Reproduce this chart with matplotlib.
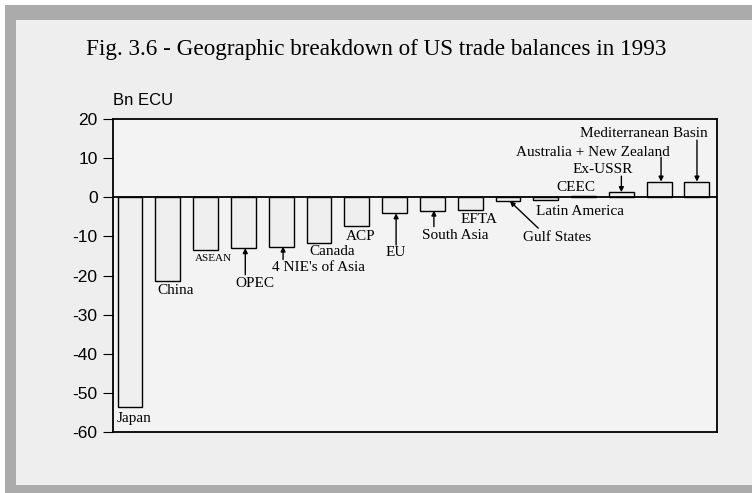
import matplotlib.pyplot as plt
from matplotlib.patches import Rectangle

plt.rcParams['axes.unicode_minus'] = False

regions = ['Japan', 'China', 'ASEAN', 'OPEC', "4 NIE's of Asia", 'Canada', 'ACP', 'EU',
           'South Asia', 'EFTA', 'Gulf States', 'Latin America', 'CEEC', 'Ex-USSR',
           'Australia + New Zealand', 'Mediterranean Basin']
balance = [-53.6, -21.5, -13.5, -13.0, -12.6, -11.8, -7.4, -4.1,
           -3.4, -3.2, -1.0, -0.8, 0.3, 1.3, 4.0, 4.0]

# label position (x, y) and optional arrow start -> bar end
labels = {
    'Japan': (0.1, -56.5, None),
    'China': (1.2, -23.8, None),
    'ASEAN': (2.2, -15.6, None),
    'OPEC': (3.3, -22.0, ((3.05, -19.8), (3.05, -13.0))),
    "4 NIE's of Asia": (5.0, -18.0, ((4.05, -15.9), (4.05, -12.6))),
    'Canada': (5.35, -13.9, None),
    'ACP': (6.1, -10.0, None),
    'EU': (7.04, -14.1, ((7.04, -12.2), (7.04, -4.1))),
    'South Asia': (8.6, -9.8, ((8.04, -7.5), (8.04, -3.4))),
    'EFTA': (9.23, -5.6, None),
    'Gulf States': (11.3, -10.2, ((10.8, -7.9), (10.05, -1.0))),
    'Latin America': (11.9, -3.6, None),
    'CEEC': (11.8, 2.6, None),
    'Ex-USSR': (12.5, 7.2, ((13.0, 5.4), (13.0, 1.3))),
    'Australia + New Zealand': (12.25, 11.5, ((14.05, 10.2), (14.05, 4.0))),
    'Mediterranean Basin': (13.6, 16.2, ((15.0, 14.6), (15.0, 4.0))),
}

serif = 'Liberation Serif'
sans = 'Liberation Sans'

fig = plt.figure(figsize=(7.52, 4.93), dpi=100, facecolor='#eeeeee')

# scanned page frame
fig.patches.append(Rectangle((0, 0), 1, 1, transform=fig.transFigure,
                             facecolor='white', edgecolor='none', zorder=-3))
fig.patches.append(Rectangle((5/752, 0), 1, 1 - 5/493, transform=fig.transFigure,
                             facecolor='#ababab', edgecolor='none', zorder=-2))
fig.patches.append(Rectangle((16/752, 8/493), 1, 1 - 28/493, transform=fig.transFigure,
                             facecolor='#eeeeee', edgecolor='none', zorder=-1))

ax = fig.add_axes([113/752, 1 - 432/493, 604/752, 313/493])
ax.set_facecolor('#f3f3f3')

x = list(range(len(regions)))
ax.bar(x, balance, width=0.66, facecolor='#efefef', edgecolor='black', linewidth=1.0, zorder=2)
ax.axhline(0, color='black', linewidth=1.3, zorder=3)

for name, (tx, ty, arr) in labels.items():
    fs = 8 if name == 'ASEAN' else 11
    ax.text(tx, ty, name, ha='center', va='center', fontsize=fs, family=serif, zorder=4)
    if arr is not None:
        ax.annotate('', xy=arr[1], xytext=arr[0],
                    arrowprops=dict(arrowstyle='-|>', color='black', lw=1.0,
                                    mutation_scale=7, shrinkA=0, shrinkB=0), zorder=4)

ax.set_xlim(-0.45, 15.53)
ax.set_ylim(-60, 20)
ax.set_yticks(range(-60, 21, 10))
ax.set_xticks([])
ax.tick_params(axis='y', direction='out', length=7, width=0.8, pad=4, labelsize=12.5)
for lab in ax.get_yticklabels():
    lab.set_family(sans)
for s in ax.spines.values():
    s.set_linewidth(1.3)

ax.text(0.0, 1.035, 'Bn ECU', transform=ax.transAxes, fontsize=12, family=sans,
        ha='left', va='bottom')
fig.text(0.5, 1 - 50/493, 'Fig. 3.6 - Geographic breakdown of US trade balances in 1993',
         ha='center', va='center', fontsize=16.7, family=serif)

fig.savefig('out.png', dpi=100, facecolor=fig.get_facecolor())
